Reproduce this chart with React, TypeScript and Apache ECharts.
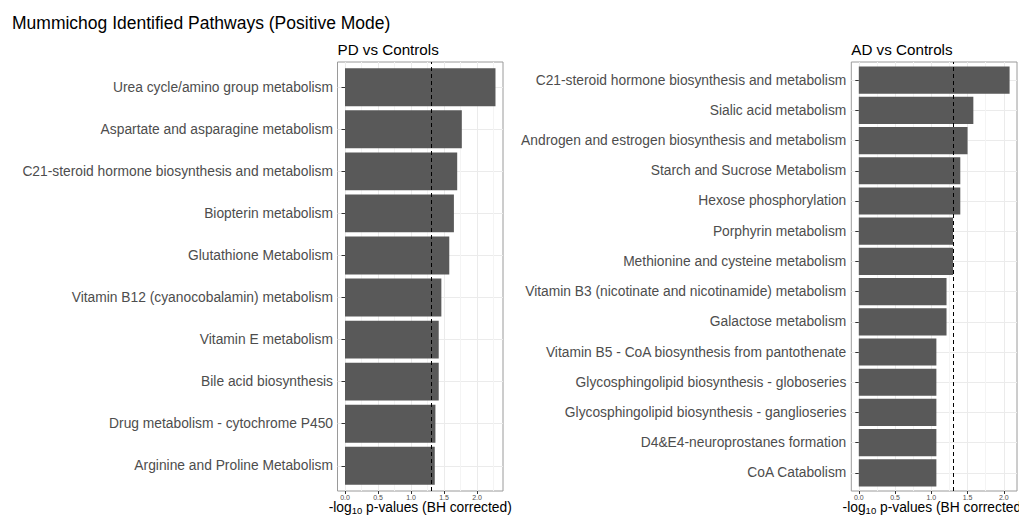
import React, { useEffect, useRef } from "react";
import * as echarts from "echarts";

const pdPathways = [
  "Urea cycle/amino group metabolism",
  "Aspartate and asparagine metabolism",
  "C21-steroid hormone biosynthesis and metabolism",
  "Biopterin metabolism",
  "Glutathione Metabolism",
  "Vitamin B12 (cyanocobalamin) metabolism",
  "Vitamin E metabolism",
  "Bile acid biosynthesis",
  "Drug metabolism - cytochrome P450",
  "Arginine and Proline Metabolism",
];
const pdValues = [2.28, 1.77, 1.7, 1.65, 1.58, 1.46, 1.42, 1.42, 1.37, 1.36];

const adPathways = [
  "C21-steroid hormone biosynthesis and metabolism",
  "Sialic acid metabolism",
  "Androgen and estrogen biosynthesis and metabolism",
  "Starch and Sucrose Metabolism",
  "Hexose phosphorylation",
  "Porphyrin metabolism",
  "Methionine and cysteine metabolism",
  "Vitamin B3 (nicotinate and nicotinamide) metabolism",
  "Galactose metabolism",
  "Vitamin B5 - CoA biosynthesis from pantothenate",
  "Glycosphingolipid biosynthesis - globoseries",
  "Glycosphingolipid biosynthesis - ganglioseries",
  "D4&E4-neuroprostanes formation",
  "CoA Catabolism",
];
const adValues = [2.08, 1.58, 1.5, 1.4, 1.4, 1.3, 1.3, 1.21, 1.21, 1.07, 1.07, 1.07, 1.07, 1.07];

const xTickValues = [0, 0.5, 1.0, 1.5, 2.0];
const significanceLine = -Math.log10(0.05);

const mainTitle = "Mummichog Identified Pathways (Positive Mode)";
const panelTitles = ["PD vs Controls", "AD vs Controls"];

const FONT = "'Liberation Sans', Arial, Helvetica, sans-serif";
const GRID_MAJOR = "#EBEBEB";
const GRID_MINOR = "#F4F4F4";
const BAR = "#595959";
const TEXT_GREY = "#4D4D4D";
const TOP = 62;
const BOTTOM = 491;
const LABEL_SIZE = 13.8;

function buildOption() {
  const grid: any[] = [];
  const xAxis: any[] = [];
  const yAxis: any[] = [];
  const series: any[] = [];
  const title: any[] = [
    {
      text: mainTitle,
      left: 12,
      top: 14,
      padding: 0,
      textStyle: { fontSize: 17.5, fontWeight: "normal", color: "#000", fontFamily: FONT },
    },
  ];

  const panels = [
    { name: panelTitles[0], cats: pdPathways, vals: pdValues, L: 337.5, R: 503, zero: 345, k: 66, margin: 4.5 },
    { name: panelTitles[1], cats: adPathways, vals: adValues, L: 851.3, R: 1017, zero: 858.8, k: 72.5, margin: 5 },
  ];

  const baseGrid = { containLabel: false, outerBoundsMode: "none" };

  panels.forEach((p) => {
    const H = BOTTOM - TOP;
    const n = p.cats.length;
    const band = H / (n + 0.2);
    const xmin = (p.L - p.zero) / p.k;
    const xmax = (p.R - p.zero) / p.k;

    title.push({
      text: p.name,
      left: p.L,
      top: 42,
      padding: 0,
      textStyle: { fontSize: 15.2, fontWeight: "normal", color: "#000", fontFamily: FONT },
    });

    // panel grid (border, x title, threshold line)
    const gPanel = grid.length;
    grid.push({
      ...baseGrid,
      left: p.L,
      top: TOP,
      width: p.R - p.L,
      height: H,
      show: true,
      borderColor: "#9A9A9A",
      borderWidth: 1,
      backgroundColor: "transparent",
    });
    const xPanel = xAxis.length;
    xAxis.push({
      gridIndex: gPanel,
      type: "value",
      min: xmin,
      max: xmax,
      axisLine: { show: false },
      axisTick: { show: false },
      axisLabel: { show: false },
      splitLine: { show: false },
      name: "{a|-log}{b|10}{a| p-values (BH corrected)}",
      nameLocation: "middle",
      nameGap: 8,
      nameMoveOverlap: false,
      nameTextStyle: {
        verticalAlign: "top",
        rich: {
          a: { fontSize: LABEL_SIZE, color: "#000", fontFamily: FONT, lineHeight: 16 },
          b: { fontSize: 9.5, color: "#000", fontFamily: FONT, lineHeight: 10, verticalAlign: "bottom" },
        },
      },
    });
    const yPanel = yAxis.length;
    yAxis.push({ gridIndex: gPanel, type: "value", min: 0, max: 1, show: false });
    series.push({
      type: "scatter",
      xAxisIndex: xPanel,
      yAxisIndex: yPanel,
      data: [[0, 0]],
      symbolSize: 0,
      silent: true,
      z: 10,
      markLine: {
        symbol: ["none", "none"],
        silent: true,
        animation: false,
        label: { show: false },
        lineStyle: { color: "#000", type: [4, 3], width: 1 },
        data: [{ xAxis: significanceLine }],
      },
    });

    // vertical grid lines
    const gV = grid.length;
    grid.push({ ...baseGrid, left: p.zero, top: TOP, width: p.R - p.zero, height: H });
    xAxis.push({
      gridIndex: gV,
      type: "value",
      min: 0,
      max: xmax,
      interval: 0.25,
      axisLine: { show: false },
      axisTick: { show: false },
      axisLabel: { show: false },
      splitLine: { show: true, showMaxLine: false, lineStyle: { color: [GRID_MAJOR, GRID_MINOR], width: 1 } },
    });
    yAxis.push({ gridIndex: gV, type: "value", min: 0, max: 1, show: false });

    // x ticks and labels
    const gT = grid.length;
    const tMin = xTickValues[0];
    const tMax = xTickValues[xTickValues.length - 1];
    grid.push({ ...baseGrid, left: p.zero + tMin * p.k, top: TOP, width: (tMax - tMin) * p.k, height: H });
    xAxis.push({
      gridIndex: gT,
      type: "value",
      min: tMin,
      max: tMax,
      interval: xTickValues[1] - xTickValues[0],
      axisLine: { show: false },
      axisTick: { show: true, length: 3, lineStyle: { color: "#333", width: 1 } },
      axisLabel: { show: true, fontSize: 7, color: TEXT_GREY, margin: 3, fontFamily: FONT, formatter: (v: number) => v.toFixed(1) },
      splitLine: { show: false },
    });
    yAxis.push({ gridIndex: gT, type: "value", min: 0, max: 1, show: false });

    // bars
    const gB = grid.length;
    grid.push({ ...baseGrid, left: p.L, top: TOP + 0.1 * band, width: p.R - p.L, height: n * band });
    const xB = xAxis.length;
    xAxis.push({ gridIndex: gB, type: "value", min: xmin, max: xmax, show: false });
    const yB = yAxis.length;
    yAxis.push({
      gridIndex: gB,
      type: "category",
      inverse: true,
      data: p.cats,
      axisLine: { show: false },
      axisTick: { show: true, alignWithLabel: true, length: 3.5, lineStyle: { color: "#333", width: 1 } },
      axisLabel: { interval: 0, fontSize: LABEL_SIZE, color: TEXT_GREY, margin: p.margin, fontFamily: FONT },
      splitLine: { show: false },
    });
    yAxis.push({
      gridIndex: gB,
      type: "value",
      min: 0,
      max: n,
      interval: 0.5,
      axisLine: { show: false },
      axisTick: { show: false },
      axisLabel: { show: false },
      splitLine: { show: true, lineStyle: { color: ["transparent", GRID_MAJOR], width: 1 } },
    });
    series.push({
      type: "bar",
      xAxisIndex: xB,
      yAxisIndex: yB,
      data: p.vals,
      barCategoryGap: "10%",
      itemStyle: { color: BAR },
      silent: true,
      z: 3,
    });
  });

  return { animation: false, backgroundColor: "#fff", title, grid, xAxis, yAxis, series };
}

export default function App() {
  const ref = useRef<HTMLDivElement>(null);
  useEffect(() => {
    if (!ref.current) return;
    const chart = echarts.init(ref.current, undefined, { renderer: "svg" });
    chart.setOption(buildOption() as any);
    return () => chart.dispose();
  }, []);
  return (
    <div
      ref={ref}
      style={{ position: "fixed", left: 0, top: 0, width: 1019, height: 516, background: "#fff" }}
    />
  );
}
